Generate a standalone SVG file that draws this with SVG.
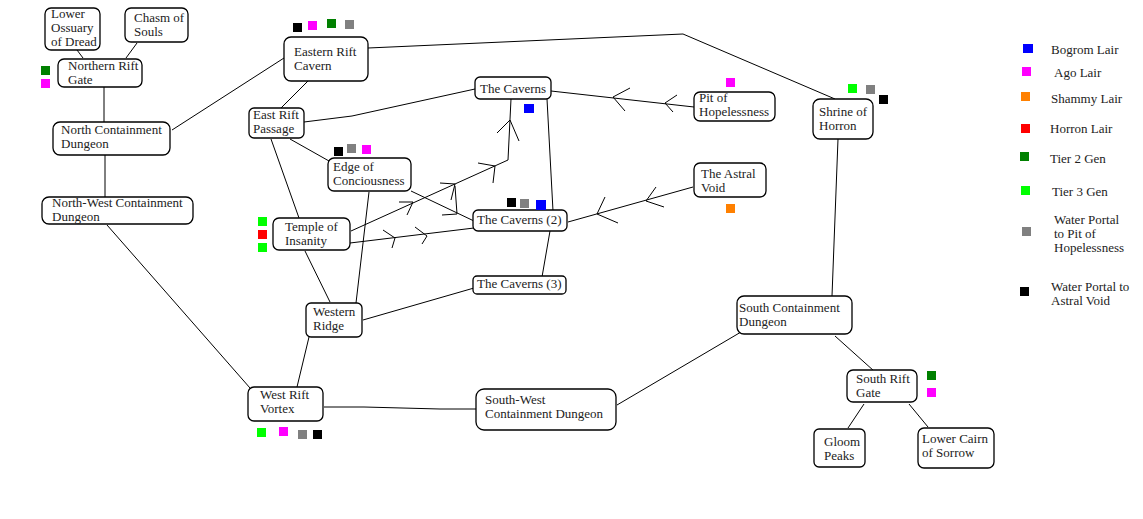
<svg xmlns="http://www.w3.org/2000/svg" width="1143" height="519" viewBox="0 0 1143 519">
<style>
.n rect{fill:#fff;stroke:#000;stroke-width:1.3}
text{font-family:"Liberation Serif","Times New Roman",serif;font-size:13px;fill:#222}
.c path{fill:none;stroke:#000;stroke-width:1}
.k{stroke:none}
.bk{fill:#000}.gr{fill:#808080}.mg{fill:#ff00ff}.dg{fill:#008000}.lg{fill:#00ff00}.bl{fill:#0000ff}.rd{fill:#ff0000}.or{fill:#ff8000}
</style>
<rect width="1143" height="519" fill="#fff"/>
<g id="connectors" class="c">
<path d="M77,50 L83,58"/>
<path d="M137,43 L126,58"/>
<path d="M104,87 L104,122"/>
<path d="M105,155 L105,197"/>
<path d="M172,130 L284,58"/>
<path d="M107,225 L250,388"/>
<path d="M368,48 L683,34 L835,99"/>
<path d="M308,81 L281,108"/>
<path d="M304,122 L352,116 L475,89"/>
<path d="M290,139 L329,161"/>
<path d="M271,139 L299,218"/>
<path d="M305,251 L330,302"/>
<path d="M369,192 L356,303"/>
<path d="M411,191 L474,221"/>
<path d="M351,231 L508,160 L511,99"/>
<path d="M399,202 L413,202 L407,215 M440,183 L455,184 L451,200 M478,163 L495,166 L493,183 M497,133 L510,120 L519,141"/>
<path d="M442,215 L457,214 L455,186"/>
<path d="M350,243 L474,228"/>
<path d="M383,230 L395,238 L392,248 M415,227 L427,236 L422,244"/>
<path d="M694,107 L551,91"/>
<path d="M630,88 L613,97 L625,111 M677,95 L665,103 L673,112"/>
<path d="M693,187 L568,222"/>
<path d="M605,197 L597,214 L618,223 M656,187 L646,201 L664,207"/>
<path d="M547,99 L553,211"/>
<path d="M550,231 L542,277"/>
<path d="M474,288 L363,320"/>
<path d="M309,337 L297,387"/>
<path d="M324,407 L364,407 L440,409 L476,409"/>
<path d="M617,405 L741,332"/>
<path d="M838,139 L832,296"/>
<path d="M835,336 L874,371"/>
<path d="M864,404 L848,428"/>
<path d="M909,404 L928,427"/>
</g>
<g id="lower-ossuary" class="n"><rect x="45" y="8" width="55" height="42" rx="6"/><text x="51" y="18">Lower</text><text x="51" y="32">Ossuary</text><text x="51" y="46">of Dread</text></g>
<g id="chasm-of-souls" class="n"><rect x="125" y="8" width="63" height="34" rx="6"/><text x="134" y="22">Chasm of</text><text x="134" y="36">Souls</text></g>
<g id="northern-rift-gate" class="n"><rect x="58" y="59" width="84" height="28" rx="6"/><text x="68" y="70">Northern Rift</text><text x="68" y="84">Gate</text></g>
<g id="north-containment" class="n"><rect x="53" y="122" width="117" height="33" rx="7"/><text x="61" y="134">North Containment</text><text x="61" y="148">Dungeon</text></g>
<g id="north-west-containment" class="n"><rect x="42" y="197" width="151" height="27" rx="7"/><text x="52" y="207">North-West Containment</text><text x="52" y="221">Dungeon</text></g>
<g id="eastern-rift-cavern" class="n"><rect x="284" y="37" width="84" height="44" rx="7"/><text x="294" y="56">Eastern Rift</text><text x="294" y="70">Cavern</text></g>
<g id="east-rift-passage" class="n"><rect x="249" y="108" width="55" height="30" rx="5"/><text x="253" y="119">East Rift</text><text x="253" y="133">Passage</text></g>
<g id="edge-of-conciousness" class="n"><rect x="328" y="158" width="83" height="33" rx="6"/><text x="333" y="171">Edge of</text><text x="333" y="185">Conciousness</text></g>
<g id="temple-of-insanity" class="n"><rect x="273" y="218" width="77" height="32" rx="6"/><text x="285" y="231">Temple of</text><text x="285" y="245">Insanity</text></g>
<g id="western-ridge" class="n"><rect x="306" y="303" width="56" height="34" rx="5"/><text x="313" y="316">Western</text><text x="313" y="330">Ridge</text></g>
<g id="the-caverns" class="n"><rect x="475" y="77" width="76" height="22" rx="5"/><text x="480" y="93">The Caverns</text></g>
<g id="the-caverns-2" class="n"><rect x="473" y="210" width="94" height="21" rx="5"/><text x="477" y="224">The Caverns (2)</text></g>
<g id="the-caverns-3" class="n"><rect x="473" y="276" width="93" height="18" rx="4"/><text x="477" y="288">The Caverns (3)</text></g>
<g id="pit-of-hopelessness" class="n"><rect x="694" y="92" width="81" height="29" rx="6"/><text x="699" y="102">Pit of</text><text x="699" y="116">Hopelessness</text></g>
<g id="the-astral-void" class="n"><rect x="694" y="163" width="72" height="34" rx="6"/><text x="701" y="178">The Astral</text><text x="701" y="192">Void</text></g>
<g id="shrine-of-horron" class="n"><rect x="813" y="99" width="60" height="40" rx="7"/><text x="819" y="116">Shrine of</text><text x="819" y="130">Horron</text></g>
<g id="south-containment" class="n"><rect x="737" y="296" width="115" height="38" rx="7"/><text x="739" y="312">South Containment</text><text x="739" y="326">Dungeon</text></g>
<g id="south-rift-gate" class="n"><rect x="847" y="370" width="70" height="32" rx="6"/><text x="856" y="383">South Rift</text><text x="856" y="397">Gate</text></g>
<g id="gloom-peaks" class="n"><rect x="814" y="429" width="51" height="38" rx="5"/><text x="824" y="446">Gloom</text><text x="824" y="460">Peaks</text></g>
<g id="lower-cairn" class="n"><rect x="918" y="428" width="76" height="40" rx="6"/><text x="922" y="443">Lower Cairn</text><text x="922" y="457">of Sorrow</text></g>
<g id="west-rift-vortex" class="n"><rect x="248" y="387" width="75" height="34" rx="6"/><text x="260" y="399">West Rift</text><text x="260" y="413">Vortex</text></g>
<g id="south-west-containment" class="n"><rect x="476" y="389" width="140" height="41" rx="8"/><text x="485" y="404">South-West</text><text x="485" y="418">Containment Dungeon</text></g>
<g id="markers">
<rect class="dg" x="41" y="66" width="9" height="9"/><rect class="mg" x="41" y="79" width="9" height="9"/>
<rect class="bk" x="293" y="23" width="9" height="9"/><rect class="mg" x="308" y="21" width="9" height="9"/><rect class="dg" x="327" y="19" width="9" height="9"/><rect class="gr" x="345" y="20" width="9" height="9"/>
<rect class="bk" x="334" y="147" width="9" height="9"/><rect class="gr" x="347" y="144" width="9" height="9"/><rect class="mg" x="362" y="145" width="9" height="9"/>
<rect class="bl" x="524" y="104" width="10" height="9"/>
<rect class="bk" x="507" y="198" width="9" height="9"/><rect class="gr" x="520" y="199" width="9" height="9"/><rect class="bl" x="536" y="200" width="10" height="10"/>
<rect class="mg" x="726" y="78" width="9" height="9"/>
<rect class="or" x="726" y="204" width="9" height="9"/>
<rect class="lg" x="848" y="84" width="9" height="9"/><rect class="gr" x="866" y="85" width="9" height="9"/><rect class="bk" x="879" y="95" width="9" height="9"/>
<rect class="lg" x="258" y="217" width="9" height="9"/><rect class="rd" x="258" y="230" width="9" height="9"/><rect class="lg" x="258" y="243" width="9" height="9"/>
<rect class="lg" x="257" y="428" width="9" height="9"/><rect class="mg" x="279" y="427" width="9" height="9"/><rect class="gr" x="298" y="430" width="9" height="9"/><rect class="bk" x="313" y="430" width="9" height="9"/>
<rect class="dg" x="927" y="371" width="9" height="9"/><rect class="mg" x="927" y="388" width="9" height="9"/>
</g>
<g id="legend">
<rect class="bl" x="1023" y="44" width="10" height="9"/><text x="1051" y="54">Bogrom Lair</text>
<rect class="mg" x="1022" y="67" width="9" height="9"/><text x="1054" y="77">Ago Lair</text>
<rect class="or" x="1021" y="92" width="9" height="9"/><text x="1051" y="103">Shammy Lair</text>
<rect class="rd" x="1021" y="124" width="9" height="9"/><text x="1050" y="133">Horron Lair</text>
<rect class="dg" x="1020" y="152" width="9" height="9"/><text x="1050" y="163">Tier 2 Gen</text>
<rect class="lg" x="1021" y="186" width="9" height="9"/><text x="1052" y="196">Tier 3 Gen</text>
<rect class="gr" x="1022" y="227" width="9" height="9"/><text x="1054" y="224">Water Portal</text><text x="1054" y="238">to Pit of</text><text x="1054" y="252">Hopelessness</text>
<rect class="bk" x="1020" y="287" width="9" height="9"/><text x="1051" y="291">Water Portal to</text><text x="1051" y="305">Astral Void</text>
</g>
</svg>
